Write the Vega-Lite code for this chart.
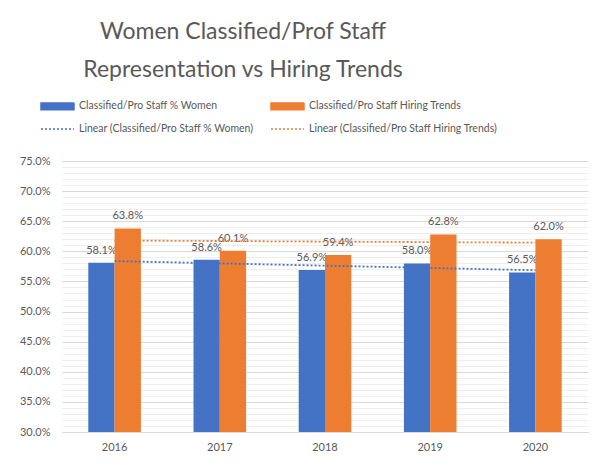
{
  "$schema": "https://vega.github.io/schema/vega-lite/v6.json",
  "width": 526,
  "height": 271,
  "autosize": {"type": "none"},
  "padding": {"left": 62, "top": 161, "right": 14, "bottom": 32},
  "background": "white",
  "title": {
    "text": ["Women Classified/Prof Staff", "Representation vs Hiring Trends"],
    "anchor": "middle",
    "frame": "group",
    "dx": -82,
    "offset": 17,
    "font": "Lato",
    "fontSize": 23,
    "fontWeight": "normal",
    "color": "#595959",
    "lineHeight": 38
  },
  "data": {
    "values": [
      {"year": 2016, "series": "Classified/Pro Staff % Women", "trend": "Linear (Classified/Pro Staff % Women)", "value": 0.581},
      {"year": 2017, "series": "Classified/Pro Staff % Women", "trend": "Linear (Classified/Pro Staff % Women)", "value": 0.586},
      {"year": 2018, "series": "Classified/Pro Staff % Women", "trend": "Linear (Classified/Pro Staff % Women)", "value": 0.569},
      {"year": 2019, "series": "Classified/Pro Staff % Women", "trend": "Linear (Classified/Pro Staff % Women)", "value": 0.580},
      {"year": 2020, "series": "Classified/Pro Staff % Women", "trend": "Linear (Classified/Pro Staff % Women)", "value": 0.565},
      {"year": 2016, "series": "Classified/Pro Staff Hiring Trends", "trend": "Linear (Classified/Pro Staff Hiring Trends)", "value": 0.638},
      {"year": 2017, "series": "Classified/Pro Staff Hiring Trends", "trend": "Linear (Classified/Pro Staff Hiring Trends)", "value": 0.601},
      {"year": 2018, "series": "Classified/Pro Staff Hiring Trends", "trend": "Linear (Classified/Pro Staff Hiring Trends)", "value": 0.594},
      {"year": 2019, "series": "Classified/Pro Staff Hiring Trends", "trend": "Linear (Classified/Pro Staff Hiring Trends)", "value": 0.628},
      {"year": 2020, "series": "Classified/Pro Staff Hiring Trends", "trend": "Linear (Classified/Pro Staff Hiring Trends)", "value": 0.620}
    ]
  },
  "layer": [
    {
      "mark": {"type": "text", "font": "Lato", "fontSize": 11, "color": "#595959", "baseline": "alphabetic", "dy": -9},
      "encoding": {
        "x": {"field": "year", "type": "ordinal", "scale": {"paddingInner": 0.5, "paddingOuter": 0.25}, "axis": null},
        "xOffset": {"field": "series", "type": "nominal", "sort": ["Classified/Pro Staff % Women", "Classified/Pro Staff Hiring Trends"]},
        "y": {
          "field": "value", "type": "quantitative",
          "scale": {"domain": [0.3, 0.75], "nice": false, "zero": false},
          "axis": {
            "title": null, "orient": "left", "labels": false, "ticks": false, "domain": false,
            "grid": true, "gridColor": "#eeeeee", "gridWidth": 1, "zindex": 0,
            "values": [0.31, 0.32, 0.33, 0.34, 0.36, 0.37, 0.38, 0.39, 0.41, 0.42, 0.43, 0.44, 0.46, 0.47, 0.48, 0.49, 0.51, 0.52, 0.53, 0.54, 0.56, 0.57, 0.58, 0.59, 0.61, 0.62, 0.63, 0.64, 0.66, 0.67, 0.68, 0.69, 0.71, 0.72, 0.73, 0.74]
          }
        },
        "text": {"field": "value", "type": "quantitative", "format": ".1%"}
      }
    },
    {
      "mark": {"type": "bar"},
      "encoding": {
        "x": {
          "field": "year", "type": "ordinal",
          "scale": {"paddingInner": 0.5, "paddingOuter": 0.25},
          "axis": {"title": null, "labelAngle": 0, "domainColor": "#d9d9d9", "ticks": false, "labelPadding": 9, "grid": false, "labelFont": "Lato", "labelFontSize": 11, "labelColor": "#595959"}
        },
        "xOffset": {"field": "series", "type": "nominal", "sort": ["Classified/Pro Staff % Women", "Classified/Pro Staff Hiring Trends"]},
        "y": {
          "field": "value", "type": "quantitative",
          "axis": {
            "title": null, "orient": "left", "format": ".1%", "grid": true, "gridColor": "#d9d9d9", "ticks": false, "domain": false,
            "labelPadding": 12, "labelFont": "Lato", "labelFontSize": 11, "labelColor": "#595959", "zindex": 0,
            "values": [0.3, 0.35, 0.4, 0.45, 0.5, 0.55, 0.6, 0.65, 0.7, 0.75]
          }
        },
        "y2": {"datum": 0.3},
        "color": {
          "field": "series", "type": "nominal",
          "scale": {
            "domain": ["Classified/Pro Staff % Women", "Classified/Pro Staff Hiring Trends", "Linear (Classified/Pro Staff % Women)", "Linear (Classified/Pro Staff Hiring Trends)"],
            "range": ["#4472C4", "#ED7D31", "#4472C4", "#ED7D31"]
          },
          "legend": {
            "title": null,
            "orient": "none",
            "direction": "horizontal",
            "legendX": -1,
            "legendY": -62,
            "columns": 2,
            "columnPadding": 14,
            "rowPadding": 9,
            "padding": 0,
            "labelFont": "Lato",
            "labelFontSize": 10.5,
            "labelColor": "#595959",
            "labelOffset": 4,
            "labelLimit": 0,
            "symbolSize": 144,
            "encode": {
              "symbols": {
                "update": {
                  "shape": [{"test": "indexof(datum.value, 'Linear') === 0", "value": "M-4.5,0H1"}, {"value": "M-4.5,-0.55H1V0.55H-4.5Z"}],
                  "fill": [{"test": "indexof(datum.value, 'Linear') === 0", "value": "transparent"}, {"scale": "color", "field": "value"}],
                  "stroke": [{"test": "indexof(datum.value, 'Linear') === 0", "scale": "color", "field": "value"}, {"value": "transparent"}],
                  "strokeDash": [{"test": "indexof(datum.value, 'Linear') === 0", "value": [2, 2]}, {"value": [1, 0]}],
                  "strokeWidth": {"value": 1.5},
                  "opacity": {"value": 1},
                  "fillOpacity": {"value": 1}
                }
              }
            }
          }
        }
      }
    },
    {
      "transform": [{"regression": "value", "on": "year", "groupby": ["trend"]}],
      "mark": {"type": "line", "strokeDash": [2, 2], "strokeWidth": 1.8},
      "encoding": {
        "x": {"field": "year", "type": "quantitative", "scale": {"domain": [2015.5, 2020.5], "nice": false, "zero": false}, "axis": null},
        "y": {"field": "value", "type": "quantitative", "axis": null},
        "color": {"field": "trend", "type": "nominal"}
      }
    }
  ],
  "resolve": {"scale": {"x": "independent"}, "axis": {"y": "independent"}},
  "config": {"view": {"stroke": null}}
}
